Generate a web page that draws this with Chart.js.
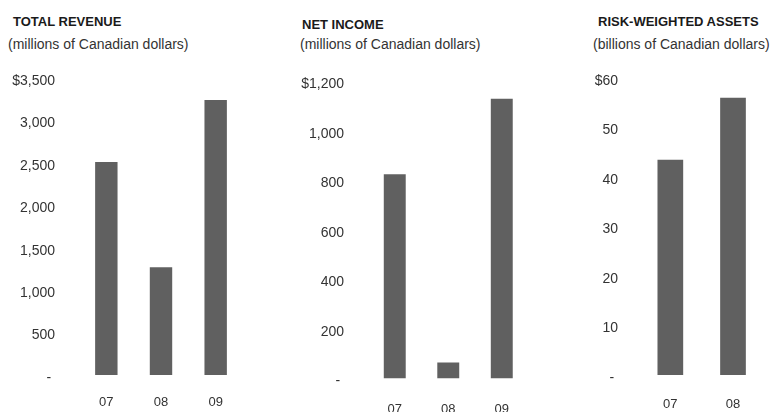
<!DOCTYPE html>
<html>
<head>
<meta charset="utf-8">
<script src="https://cdn.jsdelivr.net/npm/chart.js@4"></script>
<style>
  html, body { margin: 0; padding: 0; background: #fff; overflow: hidden; }
  body { width: 772px; height: 412px; position: relative; font-family: "Liberation Sans", Arial, sans-serif; }
  canvas { position: absolute; top: 0; }
  .title { position: absolute; font-weight: bold; font-size: 13px; line-height: 16px; color: #1a1a1a; white-space: nowrap; }
  .sub { position: absolute; font-size: 14px; line-height: 16px; color: #333; white-space: nowrap; }
</style>
</head>
<body>
<div class="title" style="left:13px; top:14px;">TOTAL REVENUE</div>
<div class="sub" style="left:8px; top:36px;">(millions of Canadian dollars)</div>
<canvas id="revenueChart" width="243" height="412" style="left:0px;"></canvas>

<div class="title" style="left:302px; top:17px;">NET INCOME</div>
<div class="sub" style="left:300px; top:36px;">(millions of Canadian dollars)</div>
<canvas id="incomeChart" width="252" height="412" style="left:280px;"></canvas>

<div class="title" style="left:598px; top:14px;">RISK-WEIGHTED ASSETS</div>
<div class="sub" style="left:593px; top:36px;">(billions of Canadian dollars)</div>
<canvas id="rwaChart" width="267" height="412" style="left:560px;"></canvas>

<script>
const years = ["07", "08", "09"];
const revenue = [2510, 1270, 3240];      // $ millions
const netIncome = [825, 65, 1130];       // $ millions
const riskWeighted = [43.5, 56, null];   // $ billions

const revenueTicks = { max: 3500, step: 500 };
const incomeTicks = { max: 1200, step: 200 };
const rwaTicks = { max: 60, step: 10 };

const barColor = "#606060";
const fontFamily = "'Liberation Sans', Arial, sans-serif";

function tickLabel(value, index, ticks) {
  if (value === 0) return "- ";
  let s = value.toLocaleString("en-US");
  if (index === ticks.length - 1) s = "$" + s;
  return s;
}

function makeChart(id, values, range, box) {
  let ctx = document.getElementById(id).getContext("2d");
  return new Chart(ctx, {
    type: "bar",
    data: {
      labels: years,
      datasets: [{
        data: values,
        backgroundColor: barColor,
        borderWidth: 0,
        barPercentage: 0.41,
        categoryPercentage: 1
      }]
    },
    options: {
      responsive: false,
      animation: false,
      layout: { padding: { top: box.top, left: 0, right: 0, bottom: 0 } },
      plugins: { legend: { display: false }, tooltip: { enabled: false } },
      scales: {
        x: {
          grid: { display: false, drawTicks: false },
          border: { display: false },
          ticks: {
            padding: box.xPad,
            color: "#333",
            font: { family: fontFamily, size: 13 }
          },
          afterFit: (scale) => { scale.height = 412 - box.bottom; }
        },
        y: {
          min: 0,
          max: range.max,
          grid: { display: false, drawTicks: false },
          border: { display: false },
          ticks: {
            stepSize: range.step,
            padding: box.yPad,
            labelOffset: 3,
            color: "#333",
            font: { family: fontFamily, size: 14 },
            callback: tickLabel
          },
          afterFit: (scale) => { scale.width = box.axisWidth; }
        }
      }
    }
  });
}

makeChart("revenueChart", revenue, revenueTicks,
  { top: 78, bottom: 375, axisWidth: 79, yPad: 24, xPad: 20 });
makeChart("incomeChart", netIncome, incomeTicks,
  { top: 81.5, bottom: 378.5, axisWidth: 88, yPad: 24, xPad: 23 });
makeChart("rwaChart", riskWeighted, rwaTicks,
  { top: 78, bottom: 375, axisWidth: 79, yPad: 21, xPad: 22 });
</script>
</body>
</html>
